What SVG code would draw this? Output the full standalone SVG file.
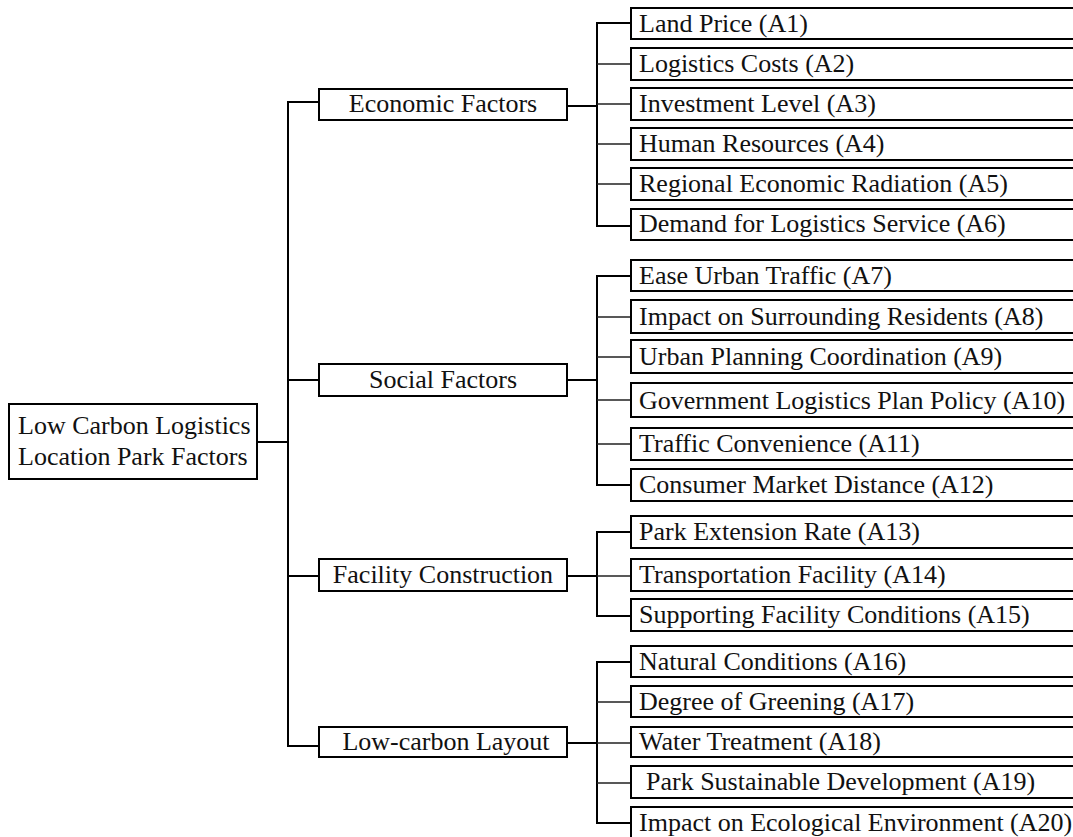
<svg xmlns="http://www.w3.org/2000/svg" width="1073" height="837" viewBox="0 0 1073 837">
<style>
.box{fill:#fff;stroke:#000;stroke-width:2}
.t{font-family:"Liberation Serif","Times New Roman",serif;font-size:26px;fill:#111}
.c{text-anchor:middle}
.br{fill:none;stroke:#000;stroke-width:2}
.st{fill:none;stroke:#222;stroke-width:1.4}
</style>
<g id="connectors">
<path class="br" d="M257,442 H288 M318,102 H288 V746 H319 M288,380 H319 M288,576 H319"/>
<path class="br" d="M567,106 H597 M631,23 H597 V226 H631"/>
<path class="st" d="M597,64 H631 M597,104 H631 M597,144 H631 M597,184 H631"/>
<path class="br" d="M567,380 H597 M631,276 H597 V485 H631"/>
<path class="st" d="M597,317 H631 M597,357 H631 M597,400 H631 M597,444 H631"/>
<path class="br" d="M567,576 H597 M631,532 H597 V616 H631"/>
<path class="st" d="M597,576 H631"/>
<path class="br" d="M567,743 H597 M631,662 H597 V823 H631"/>
<path class="st" d="M597,702 H631 M597,743 H631 M597,783 H631"/>
</g>
<g id="root"><rect class="box" x="9" y="404" width="248" height="75"/><text class="t" x="18" y="434">Low Carbon Logistics</text><text class="t" x="18" y="465">Location Park Factors</text></g>
<g id="economic"><rect class="box" x="319" y="89" width="248" height="31"/><text class="t c" x="443" y="112">Economic Factors</text></g>
<g id="social"><rect class="box" x="319" y="364" width="248" height="32"/><text class="t c" x="443" y="388">Social Factors</text></g>
<g id="facility"><rect class="box" x="319" y="559" width="248" height="32"/><text class="t c" x="443" y="583">Facility Construction</text></g>
<g id="lowcarbon"><rect class="box" x="319" y="727" width="248" height="30"/><text class="t c" x="446" y="750">Low-carbon Layout</text></g>
<g id="A1"><rect class="box" x="631" y="8" width="460" height="31"/><text class="t" x="639" y="32">Land Price (A1)</text></g>
<g id="A2"><rect class="box" x="631" y="48" width="460" height="32"/><text class="t" x="639" y="72">Logistics Costs (A2)</text></g>
<g id="A3"><rect class="box" x="631" y="88" width="460" height="32"/><text class="t" x="639" y="112">Investment Level (A3)</text></g>
<g id="A4"><rect class="box" x="631" y="128" width="460" height="32"/><text class="t" x="639" y="152">Human Resources (A4)</text></g>
<g id="A5"><rect class="box" x="631" y="168" width="460" height="32"/><text class="t" x="639" y="192">Regional Economic Radiation (A5)</text></g>
<g id="A6"><rect class="box" x="631" y="209" width="460" height="31"/><text class="t" x="639" y="232">Demand for Logistics Service (A6)</text></g>
<g id="A7"><rect class="box" x="631" y="260" width="460" height="31"/><text class="t" x="639" y="284">Ease Urban Traffic (A7)</text></g>
<g id="A8"><rect class="box" x="631" y="300" width="460" height="33"/><text class="t" x="639" y="325">Impact on Surrounding Residents (A8)</text></g>
<g id="A9"><rect class="box" x="631" y="340" width="460" height="33"/><text class="t" x="639" y="365">Urban Planning Coordination (A9)</text></g>
<g id="A10"><rect class="box" x="631" y="383" width="460" height="34"/><text class="t" x="639" y="409">Government Logistics Plan Policy (A10)</text></g>
<g id="A11"><rect class="box" x="631" y="428" width="460" height="32"/><text class="t" x="639" y="452">Traffic Convenience (A11)</text></g>
<g id="A12"><rect class="box" x="631" y="469" width="460" height="32"/><text class="t" x="639" y="493">Consumer Market Distance (A12)</text></g>
<g id="A13"><rect class="box" x="631" y="516" width="460" height="32"/><text class="t" x="639" y="540">Park Extension Rate (A13)</text></g>
<g id="A14"><rect class="box" x="631" y="559" width="460" height="32"/><text class="t" x="639" y="583">Transportation Facility (A14)</text></g>
<g id="A15"><rect class="box" x="631" y="599" width="460" height="32"/><text class="t" x="639" y="623">Supporting Facility Conditions (A15)</text></g>
<g id="A16"><rect class="box" x="631" y="646" width="460" height="31"/><text class="t" x="639" y="670">Natural Conditions (A16)</text></g>
<g id="A17"><rect class="box" x="631" y="686" width="460" height="31"/><text class="t" x="639" y="710">Degree of Greening (A17)</text></g>
<g id="A18"><rect class="box" x="631" y="727" width="460" height="30"/><text class="t" x="639" y="750">Water Treatment (A18)</text></g>
<g id="A19"><rect class="box" x="631" y="766" width="460" height="32"/><text class="t" x="646" y="790">Park Sustainable Development (A19)</text></g>
<g id="A20"><rect class="box" x="631" y="807" width="460" height="32"/><text class="t" x="639" y="831">Impact on Ecological Environment (A20)</text></g>
</svg>
